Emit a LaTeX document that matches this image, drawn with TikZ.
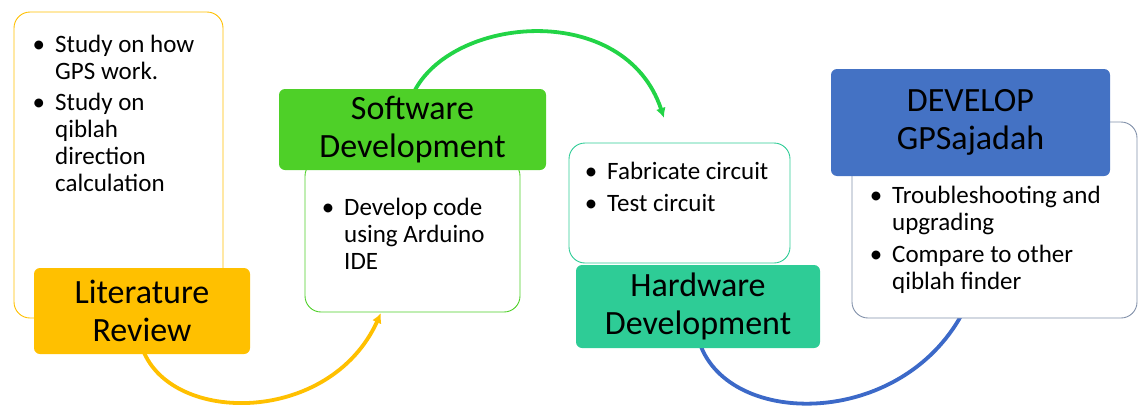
\documentclass[tikz,border=0pt]{standalone}
\usepackage{fontspec}
\setmainfont{Carlito}
\usetikzlibrary{arrows.meta}
\definecolor{cYel}{HTML}{FFC000}
\definecolor{cGrn}{RGB}{78,208,40}
\definecolor{cGrnArc}{RGB}{34,212,70}
\definecolor{cTeal}{RGB}{46,204,150}
\definecolor{cBlue}{HTML}{4472C4}
\definecolor{cBlueArc}{RGB}{60,105,200}
\definecolor{cGray}{RGB}{130,145,170}
\newcommand{\bul}{\llap{\textbullet\hspace{10pt}}}
\begin{document}
\begin{tikzpicture}[x=1pt,y=-1pt,
  bodybox/.style={draw=#1, fill=white, line width=0.9pt, rounded corners=16pt, inner sep=0pt},
  titlebox/.style={fill=#1, rounded corners=6pt, inner sep=0pt, align=center, font=\fontsize{34}{38}\selectfont},
  bullets/.style={anchor=base west, inner sep=0pt, font=\fontsize{25}{27}\selectfont},
  flow/.style={line width=3.8pt},
  tip/.style={-{Latex[length=10pt,width=10pt]}}]
\useasboundingbox (0,0) rectangle (1139,407);

% connector anchor coordinates
\coordinate (yS) at (143,350);
\coordinate (yE) at (381,313);
\coordinate (gS) at (413,94);
\coordinate (gE) at (664,118);
\coordinate (bS) at (700,344);
\coordinate (bE) at (962,314);

% connectors (drawn behind boxes)
\draw[flow, cYel, tip] (yS) .. controls (172,425) and (330,425) .. (yE);
\draw[flow, cGrnArc, tip] (gS) .. controls (450,15) and (625,0) .. (gE);
\draw[flow, cBlueArc] (bS) .. controls (730,428) and (900,428) .. (bE);

% Literature Review
\node[bodybox=cYel, minimum width=209pt, minimum height=306pt] (litBody) at (118.5,165) {};
\node[titlebox=cYel, minimum width=216pt, minimum height=86pt] (litTitle) at (142,311) {Literature\\Review};
\node[bullets] (litTxt) at (55,52) {\begin{tabular}[t]{@{}l@{}}\bul Study on how\\ GPS work.\\[4pt] \bul Study on\\ qiblah\\ direction\\ calculation\end{tabular}};

% Software Development
\node[bodybox=cGrn, minimum width=215pt, minimum height=152pt] (swBody) at (412.5,236) {};
\node[titlebox=cGrn, minimum width=267pt, minimum height=81pt] (swTitle) at (412.5,129.5) {Software\\Development};
\node[bullets] (swTxt) at (344,215) {\begin{tabular}[t]{@{}l@{}}\bul Develop code\\ using Arduino\\ IDE\end{tabular}};

% Hardware Development
\node[bodybox=cTeal, minimum width=221pt, minimum height=120pt] (hwBody) at (679.5,203) {};
\node[titlebox=cTeal, minimum width=244pt, minimum height=83pt] (hwTitle) at (698,306.5) {Hardware\\Development};
\node[bullets] (hwTxt) at (607,179) {\begin{tabular}[t]{@{}l@{}}\bul Fabricate circuit\\[5pt] \bul Test circuit\end{tabular}};

% DEVELOP GPSajadah
\node[bodybox=cGray, minimum width=285pt, minimum height=196pt] (dvBody) at (994.5,220) {};
\node[titlebox=cBlue, minimum width=279pt, minimum height=107pt] (dvTitle) at (970.5,122.5) {DEVELOP\\GPSajadah};
\node[bullets] (dvTxt) at (892,203) {\begin{tabular}[t]{@{}l@{}}\bul Troubleshooting and\\ upgrading\\[5pt] \bul Compare to other\\ qiblah finder\end{tabular}};
\end{tikzpicture}
\end{document}
